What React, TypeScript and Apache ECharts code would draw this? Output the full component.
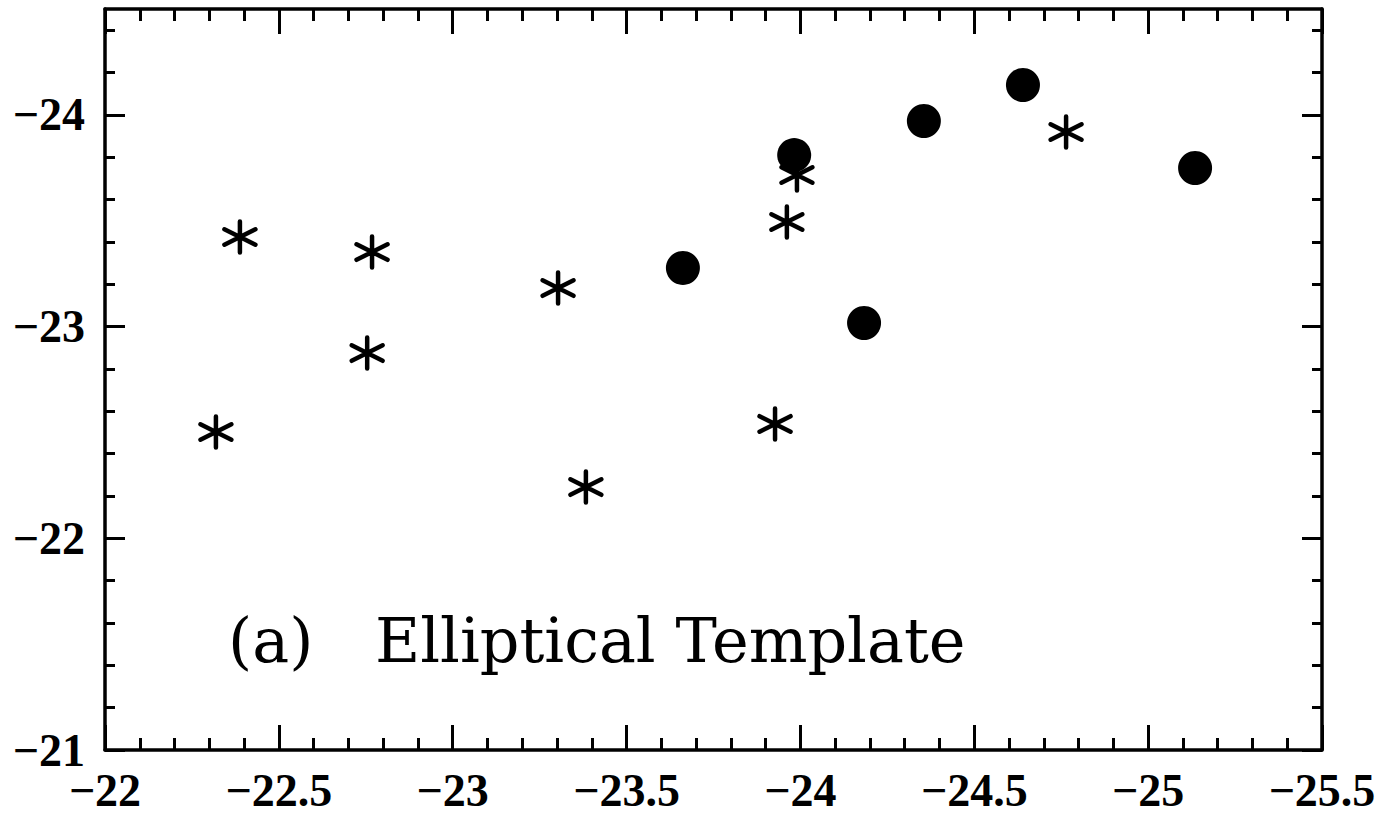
import React, { useEffect, useRef } from "react";
import * as echarts from "echarts";

// Filled circles
const circleX = [-23.662, -24.183, -23.982, -24.355, -24.64, -25.135];
const circleY = [-23.277, -23.017, -23.81, -23.971, -24.141, -23.749];
// Asterisks
const starX = [-22.388, -22.319, -22.768, -22.754, -23.303, -23.383, -23.927, -23.961, -23.99, -24.764];
const starY = [-23.423, -22.502, -23.352, -22.875, -23.182, -22.242, -22.54, -23.494, -23.716, -23.919];

const yMajorTicks = [-24, -23, -22, -21];
const yMinorTicks = [
  -24.4, -24.2, -23.8, -23.6, -23.4, -23.2, -22.8, -22.6, -22.4, -22.2,
  -21.8, -21.6, -21.4, -21.2,
];
const xMin = -25.5;
const xMax = -22;
const yMin = -24.5;
const yMax = -21;
const labelText = "(a)";
const titleText = "Elliptical Template";

const fmt = (v: number) => String(v).replace("-", "\u2212");

export default function App() {
  const ref = useRef<HTMLDivElement>(null);
  useEffect(() => {
    if (!ref.current) return;
    const chart = echarts.init(ref.current, null, { renderer: "svg" });
    const lineW = 3.5;
    const tickW = 3;
    const labelStyle = {
      fontFamily: "Liberation Serif",
      fontWeight: "bold" as const,
      fontSize: 46,
      color: "#000",
    };
    const xBase = (pos: "bottom" | "top", showLabel: boolean) => ({
      type: "value" as const,
      position: pos,
      min: xMin,
      max: xMax,
      inverse: true,
      interval: 0.5,
      axisLine: { show: true, lineStyle: { color: "#000", width: lineW } },
      axisTick: { show: true, inside: true, length: 25, lineStyle: { color: "#000", width: tickW } },
      minorTick: { show: true, splitNumber: 5, length: 12, lineStyle: { color: "#000", width: tickW } },
      splitLine: { show: false },
      minorSplitLine: { show: false },
      axisLabel: { show: showLabel, margin: 17, formatter: fmt, ...labelStyle },
    });
    const yMajor = (pos: "left" | "right", showLabel: boolean) => ({
      type: "value" as const,
      position: pos,
      min: yMin,
      max: yMax,
      inverse: true,
      axisLine: { show: true, lineStyle: { color: "#000", width: lineW } },
      axisTick: {
        show: true,
        inside: true,
        length: 20,
        customValues: yMajorTicks,
        lineStyle: { color: "#000", width: tickW },
      },
      splitLine: { show: false },
      axisLabel: {
        show: showLabel,
        margin: 20,
        customValues: yMajorTicks,
        formatter: fmt,
        ...labelStyle,
      },
    });
    const yMinor = (pos: "left" | "right") => ({
      type: "value" as const,
      position: pos,
      min: yMin,
      max: yMax,
      inverse: true,
      axisLine: { show: false },
      axisTick: {
        show: true,
        inside: true,
        length: 10,
        customValues: yMinorTicks,
        lineStyle: { color: "#000", width: tickW },
      },
      splitLine: { show: false },
      axisLabel: { show: false },
    });

    chart.setOption({
      animation: false,
      backgroundColor: "#fff",
      grid: { left: 105, top: 9, right: 76, bottom: 64, containLabel: false },
      xAxis: [xBase("bottom", true), xBase("top", false)],
      yAxis: [yMajor("left", true), yMinor("left"), yMajor("right", false), yMinor("right")],
      series: [
        {
          name: "circles",
          type: "scatter",
          xAxisIndex: 0,
          yAxisIndex: 0,
          symbol: "circle",
          symbolSize: 34,
          itemStyle: { color: "#000", opacity: 1 },
          emphasis: { disabled: true },
          data: circleX.map((x, i) => [x, circleY[i]]),
        },
        {
          name: "stars",
          type: "scatter",
          xAxisIndex: 0,
          yAxisIndex: 0,
          symbol: "path://M10 0L10 20M1 5L19 15M1 15L19 5",
          symbolSize: 31,
          itemStyle: {
            color: "#000",
            opacity: 1,
            borderColor: "#000",
            borderWidth: 4.5,
            borderCap: "round",
          },
          emphasis: { disabled: true },
          data: starX.map((x, i) => [x, starY[i]]),
        },
      ],
      graphic: [
        {
          type: "text",
          left: 228,
          top: 609,
          style: { text: labelText, fontFamily: "DejaVu Serif", fontSize: 62, fill: "#000" },
        },
        {
          type: "text",
          left: 375,
          top: 609,
          style: { text: titleText, fontFamily: "DejaVu Serif", fontSize: 62, fill: "#000" },
        },
      ],
    });
    return () => chart.dispose();
  }, []);
  return (
    <div
      ref={ref}
      style={{ position: "absolute", left: 0, top: 0, width: 1398, height: 814, background: "#fff" }}
    />
  );
}
